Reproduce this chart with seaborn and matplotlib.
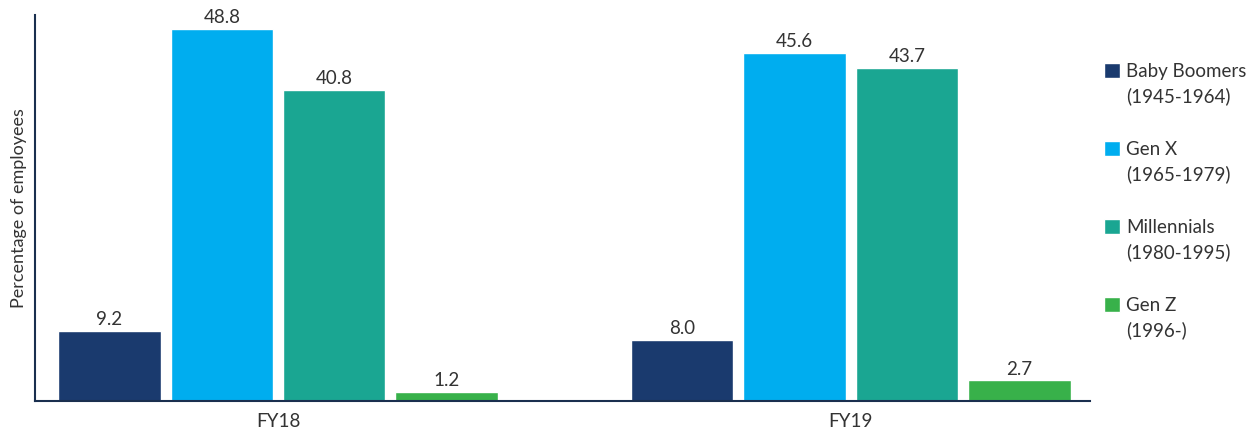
import pandas as pd
import matplotlib.pyplot as plt
import seaborn as sns

# chart data
years = ['FY18', 'FY19']
generations = ['Baby Boomers\n(1945-1964)', 'Gen X\n(1965-1979)',
               'Millennials\n(1980-1995)', 'Gen Z\n(1996-)']
boomers = [9.2, 8.0]
gen_x = [48.8, 45.6]
millennials = [40.8, 43.7]
gen_z = [1.2, 2.7]
colors = ['#1a3a6e', '#00adef', '#1aa692', '#38b14a']

rows = []
for gen, vals in zip(generations, [boomers, gen_x, millennials, gen_z]):
    for yr, v in zip(years, vals):
        rows.append({'year': yr, 'generation': gen, 'value': v})
df = pd.DataFrame(rows)

sns.set_style('white')
plt.rcParams['font.family'] = ['Lato', 'DejaVu Sans']

fig = plt.figure(figsize=(12.54, 4.32), dpi=100)
ax = fig.add_axes([0.028, 0.072, 0.841, 0.893])

sns.barplot(data=df, x='year', y='value', hue='generation', order=years,
            hue_order=generations, palette=colors, width=0.785, gap=0.09,
            saturation=1, ax=ax)

for cont in ax.containers:
    ax.bar_label(cont, fmt='%.1f', padding=2, fontsize=13.5, color='#333333')

ax.set_xlim(-0.424, 1.417)
ax.set_ylim(0, 50.6)
ax.set_yticks([])
ax.set_xlabel('')
ax.set_ylabel('Percentage of employees', fontsize=13, color='#333333', labelpad=6)
ax.tick_params(axis='x', length=0, labelsize=13.5, labelcolor='#333333', pad=9)

for side in ['top', 'right']:
    ax.spines[side].set_visible(False)
for side in ['left', 'bottom']:
    ax.spines[side].set_color('#1a2f4f')
    ax.spines[side].set_linewidth(1.5)

leg = ax.legend(loc='upper left', bbox_to_anchor=(0.998, 0.919), frameon=False,
                fontsize=13.5, handlelength=0.85, handleheight=0.85,
                labelspacing=1.94, handletextpad=0.3, labelcolor='#333333')
for t in leg.get_texts():
    t.set_linespacing(1.45)
# put the colour square next to the first line of each label
for col in leg._legend_handle_box.get_children():
    for row in col.get_children():
        row.align = 'top'

fig.savefig('out.png', dpi=100)
